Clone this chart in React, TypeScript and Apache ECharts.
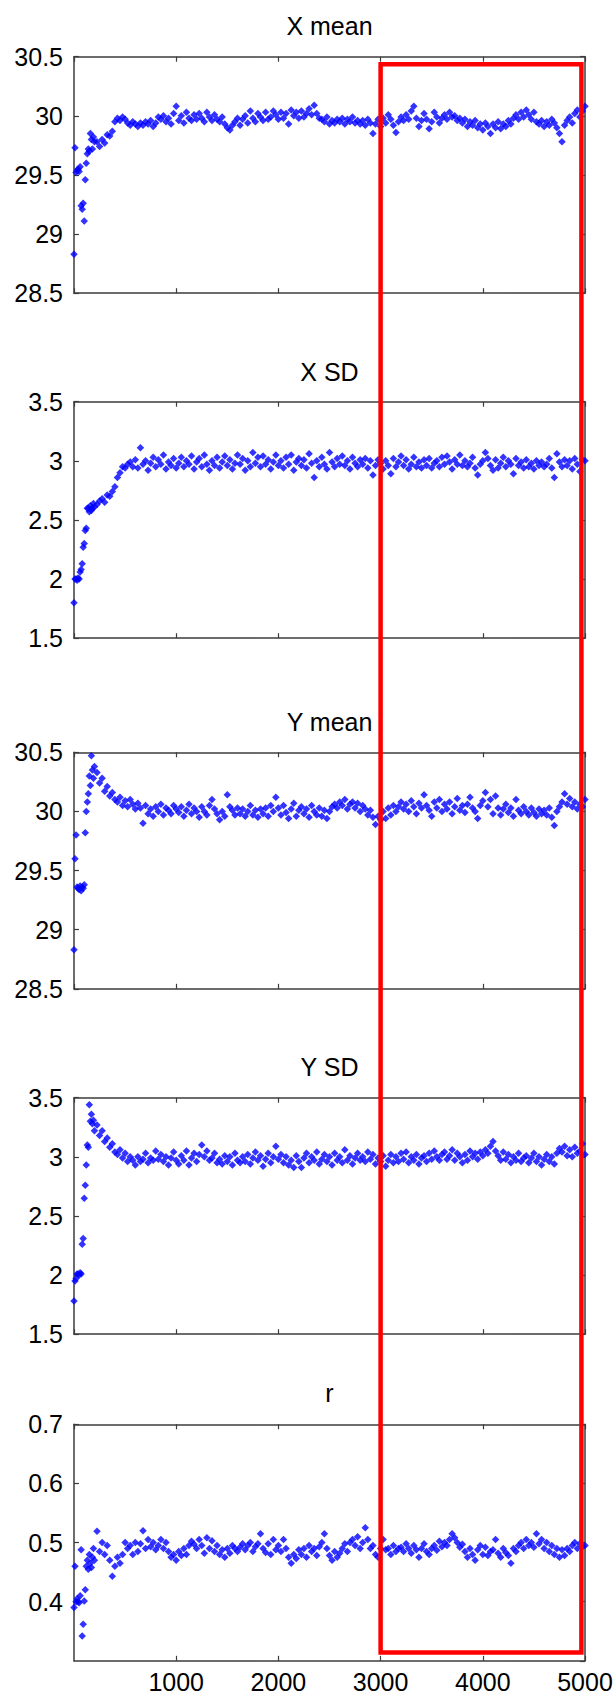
import React, { useEffect, useRef } from "react";
import * as echarts from "echarts";

// iteration numbers (x values)
const iterations = [
  0, 10, 20, 30, 40, 50, 60, 70, 80, 90, 100, 110, 120, 130, 140, 150, 160, 170, 180, 190, 200,
  225, 250, 275, 300, 325, 350, 375, 400,
  425, 450, 475, 500, 525, 550, 575, 600,
  625, 650, 675, 700, 725, 750, 775, 800,
  825, 850, 875, 900, 925, 950, 975, 1000,
  1025, 1050, 1075, 1100, 1125, 1150, 1175, 1200,
  1225, 1250, 1275, 1300, 1325, 1350, 1375, 1400,
  1425, 1450, 1475, 1500, 1525, 1550, 1575, 1600,
  1625, 1650, 1675, 1700, 1725, 1750, 1775, 1800,
  1825, 1850, 1875, 1900, 1925, 1950, 1975, 2000,
  2025, 2050, 2075, 2100, 2125, 2150, 2175, 2200,
  2225, 2250, 2275, 2300, 2325, 2350, 2375, 2400,
  2425, 2450, 2475, 2500, 2525, 2550, 2575, 2600,
  2625, 2650, 2675, 2700, 2725, 2750, 2775, 2800,
  2825, 2850, 2875, 2900, 2925, 2950, 2975, 3000,
  3025, 3050, 3075, 3100, 3125, 3150, 3175, 3200,
  3225, 3250, 3275, 3300, 3325, 3350, 3375, 3400,
  3425, 3450, 3475, 3500, 3525, 3550, 3575, 3600,
  3625, 3650, 3675, 3700, 3725, 3750, 3775, 3800,
  3825, 3850, 3875, 3900, 3925, 3950, 3975, 4000,
  4025, 4050, 4075, 4100, 4125, 4150, 4175, 4200,
  4225, 4250, 4275, 4300, 4325, 4350, 4375, 4400,
  4425, 4450, 4475, 4500, 4525, 4550, 4575, 4600,
  4625, 4650, 4675, 4700, 4725, 4750, 4775, 4800,
  4825, 4850, 4875, 4900, 4925, 4950, 4975, 5000,
];

const xMean = [
  28.83, 29.73, 29.52, 29.54, 29.55, 29.53, 29.57, 29.24, 29.21, 29.26, 29.11, 29.46, 29.6, 29.68, 29.72, 29.7, 29.85, 29.8, 29.72, 29.82, 29.78,
  29.78, 29.74, 29.8, 29.77, 29.84, 29.83, 29.87, 29.95,
  29.98, 29.96, 29.99, 29.97, 29.94, 29.92, 29.95, 29.93,
  29.91, 29.94, 29.92, 29.95, 29.93, 29.96, 29.91, 29.94,
  29.99, 29.97, 30.0, 29.95, 29.98, 29.93, 30.02, 30.08,
  29.96, 30.0, 29.94, 30.03, 29.98, 29.96, 30.01, 29.97,
  30.02, 29.98, 29.95, 30.03, 29.99, 29.96, 30.01, 29.97,
  29.95, 29.99, 29.93, 29.9, 29.88, 29.92, 29.95, 29.98,
  29.92, 29.97, 30.0, 29.94, 30.04, 29.98, 29.95, 30.02,
  29.99, 29.96, 30.03, 29.97, 29.99, 30.04, 30.01, 29.97,
  30.03, 29.98, 30.02, 29.93, 30.05, 30.0, 30.03, 29.98,
  30.04, 29.99, 30.02, 30.06, 30.01, 30.09, 30.02, 29.98,
  29.97, 29.95, 29.99, 29.93, 29.96, 29.94, 29.97, 29.95,
  29.98, 29.93, 29.97, 29.95, 29.99, 29.94, 29.96, 29.93,
  29.96, 29.92, 29.97, 29.94, 29.85, 29.93, 29.97, 29.91,
  29.98, 29.94, 30.01, 29.97, 29.92, 29.86, 29.95, 29.99,
  29.96, 30.01, 29.97, 30.04, 30.08, 29.98, 29.91, 29.96,
  30.02, 29.97, 29.89, 29.95, 30.03, 29.99, 29.94, 29.98,
  30.01, 29.97, 30.03, 29.99, 30.0, 29.96, 29.98, 29.94,
  29.97, 29.91, 29.95, 29.92, 29.96, 29.9, 29.93, 29.88,
  29.94, 29.91, 29.85, 29.93, 29.9, 29.95, 29.89, 29.93,
  29.91, 29.96, 29.93, 29.98, 30.01, 29.97, 30.03, 29.99,
  30.05, 30.01, 29.97, 30.03, 29.95, 29.93, 29.96, 29.91,
  29.95, 29.92, 29.97, 29.94, 29.9, 29.85, 29.78, 29.92,
  29.96, 29.99, 29.94, 30.02, 30.05, 29.99, 30.04, 30.08,
];

const xSD = [
  1.8, 2.0, 2.0, 1.99, 2.01, 2.0, 2.06, 2.08, 2.13, 2.27, 2.3, 2.41, 2.43, 2.6, 2.6, 2.57, 2.62, 2.58, 2.6, 2.64, 2.61,
  2.63, 2.66, 2.68, 2.65, 2.71, 2.7, 2.74, 2.78,
  2.86, 2.9, 2.95, 2.94, 2.97, 2.99, 2.95, 3.01,
  2.94, 3.11, 2.97, 3.0, 2.92, 2.98, 3.03, 2.95,
  3.01, 2.97, 3.05, 2.93, 2.99, 2.96, 3.02, 2.94,
  2.98, 3.03, 2.95, 3.0, 2.97, 3.04, 2.93, 2.99,
  3.02, 2.95, 3.05, 2.97, 2.92, 3.0, 2.96, 3.03,
  2.94, 2.99, 3.04, 2.96, 3.01, 2.93, 2.98, 3.05,
  2.97, 3.02, 2.92, 3.0, 2.95, 3.07, 2.98, 3.03,
  2.95, 3.04, 2.97, 3.01, 2.93, 2.99, 3.05, 2.96,
  3.0, 2.94, 3.03, 2.97, 3.05, 2.92, 2.99, 3.02,
  2.96, 3.01, 2.94, 3.06, 2.98, 2.86, 3.0, 2.95,
  3.03, 2.97, 2.93, 3.07, 2.99, 2.95, 3.02, 2.97,
  3.04, 2.96, 3.0, 2.93, 3.03, 2.98, 2.95, 3.01,
  2.97, 3.02, 2.94, 3.0, 2.88, 2.96, 3.01, 2.98,
  2.93, 3.0, 2.96, 2.89, 3.02, 2.95, 2.99, 3.04,
  2.96, 3.01, 2.93, 2.97, 3.03, 2.95, 2.99, 2.94,
  3.01, 2.96, 3.02, 2.94, 2.98, 3.0, 2.95, 3.03,
  2.97, 3.04, 2.99, 2.93, 3.01, 2.97, 3.05, 2.96,
  3.0, 2.95, 2.98, 3.03, 2.94, 2.88, 2.97, 3.0,
  3.07, 3.02, 2.96, 2.92, 3.01, 2.94, 2.98, 3.03,
  2.95, 3.0, 2.97, 2.89, 3.02, 2.96, 2.99, 2.94,
  3.01, 2.95, 2.98, 2.93, 3.0, 2.96, 2.99, 2.95,
  2.97, 3.02, 2.94, 2.86, 3.06, 2.99, 2.95, 3.01,
  2.96, 3.0, 2.93, 3.02, 2.97, 2.91, 3.01, 3.0,
];

const yMean = [
  28.83, 29.6, 29.8, 29.36, 29.35, 29.34, 29.37, 29.33, 29.36, 29.35, 29.38, 29.82, 30.0, 30.08, 30.15, 30.3, 30.22, 30.47, 30.35, 30.28, 30.38,
  30.33, 30.24, 30.28, 30.17, 30.21, 30.13, 30.16, 30.1,
  30.08, 30.12, 30.05, 30.09, 30.04, 30.1, 30.06, 30.02,
  30.07, 30.03, 29.9, 30.05, 29.98, 30.02, 29.96, 30.04,
  30.0, 30.06, 29.97, 30.03, 30.01, 29.98, 30.05, 30.02,
  29.99, 30.04, 29.96, 30.01, 30.06, 29.98, 30.03, 30.0,
  29.95, 30.04, 30.0, 29.97, 30.05, 30.1, 30.02, 29.98,
  29.93, 30.0, 29.96, 30.14, 30.04, 30.01, 29.97, 30.03,
  29.98, 30.02, 29.96, 30.0, 30.05, 29.97, 30.01, 29.95,
  30.02, 29.98, 30.03, 29.96, 30.05, 30.0, 30.12, 30.03,
  29.97, 30.05, 29.99, 29.94, 30.02, 30.07, 29.96, 30.01,
  30.04, 29.98, 30.02, 29.95, 30.05, 30.0, 29.97, 30.03,
  29.96, 30.01, 29.94, 30.0, 30.04, 30.06, 30.03, 30.08,
  30.05, 30.1, 30.02, 30.06, 30.08, 30.03, 30.07, 30.0,
  30.05, 30.02, 29.97, 30.01, 29.95, 29.89, 29.96, 29.93,
  30.0, 29.94, 30.03, 29.97, 30.05, 30.0, 30.04, 30.08,
  30.02, 30.06, 30.0, 30.09, 30.04, 29.98, 30.07, 30.03,
  30.14, 30.05, 30.01, 29.96, 30.08, 30.03, 30.1, 30.0,
  30.06, 30.02, 30.08, 29.98, 30.04, 30.11, 30.01, 30.05,
  29.99, 30.06, 30.12, 30.03, 30.0, 29.94, 30.05, 30.09,
  30.16, 30.04, 30.1, 29.98, 30.13, 30.03, 29.97, 30.02,
  30.06, 29.99, 30.03, 29.96, 30.1, 30.01, 29.98, 30.04,
  30.0, 29.97, 30.03, 29.99, 29.96, 30.02, 29.98, 30.01,
  29.97, 30.03, 29.95, 29.88, 30.0, 30.04, 30.08, 30.15,
  30.06, 30.11, 30.04, 30.08, 30.02, 30.06, 30.04, 30.1,
];

const ySD = [
  1.78, 1.95, 1.97, 2.01, 2.01, 2.0, 2.02, 2.01, 2.26, 2.31, 2.65, 2.76, 2.93, 3.1, 3.08, 3.44, 3.3, 3.36, 3.28, 3.31, 3.22,
  3.27, 3.18, 3.22, 3.13, 3.16, 3.08, 3.11, 3.04,
  3.02, 3.06, 2.99, 3.03, 2.96, 3.0, 2.97, 2.93,
  3.0, 2.96, 2.98, 3.03, 2.95, 2.99, 2.97, 3.05,
  2.98, 3.02, 2.96, 3.0, 2.93, 2.99, 3.04, 2.97,
  2.94, 3.01, 2.97, 3.05, 2.93, 2.99, 3.03, 2.96,
  3.02, 3.1, 3.0, 3.05, 2.97, 2.99, 3.03, 2.95,
  2.98, 2.94, 3.01, 2.96, 3.0, 2.93, 3.03, 2.97,
  2.95, 3.0, 2.96, 3.02, 2.94, 2.99, 3.04, 2.97,
  3.01, 2.92, 2.98, 3.03, 2.95, 3.0, 3.09, 2.98,
  3.02, 2.95, 3.0, 2.93, 2.97, 2.91, 3.01, 2.96,
  2.91, 2.99, 3.03, 2.95, 3.0, 2.97, 3.04, 2.94,
  2.98, 3.02, 2.96, 3.0, 2.93, 3.03, 2.97, 3.0,
  2.95, 3.06, 2.97, 3.01, 2.94, 2.99, 3.03, 2.97,
  3.0, 2.96, 3.04, 2.98, 3.02, 2.94, 2.99, 2.96,
  3.01, 2.92, 2.97, 3.02, 2.95, 3.0, 2.96, 3.03,
  2.98, 3.04, 2.95, 3.0, 2.97, 3.02, 2.94, 2.99,
  3.01, 2.96, 3.03, 2.98, 3.05, 3.0, 2.97, 3.02,
  3.04, 2.98, 3.01, 3.06, 2.97, 3.03, 3.0, 2.95,
  3.02, 2.97, 3.05, 3.0, 3.03, 2.98, 3.04, 3.01,
  3.06, 3.03, 3.09, 3.13, 3.05, 3.01, 2.97, 3.04,
  2.98, 3.02, 2.95, 3.0, 2.97, 3.03, 2.96, 2.99,
  3.01, 2.95, 2.99, 3.03, 2.96, 3.0, 2.93, 2.98,
  3.02, 2.96, 3.0, 2.94, 3.03, 3.07, 3.04, 3.09,
  3.01, 3.06, 3.0, 3.08, 3.03, 3.05, 3.11, 3.02,
];

const rValues = [
  0.39, 0.46, 0.4, 0.405, 0.4, 0.398, 0.41, 0.488, 0.342, 0.362, 0.401, 0.42, 0.46, 0.47, 0.455, 0.48, 0.465, 0.458, 0.475, 0.49, 0.47,
  0.519, 0.485, 0.5, 0.48, 0.495, 0.47, 0.443, 0.46,
  0.475, 0.465, 0.48, 0.5, 0.49, 0.495, 0.48, 0.5,
  0.485, 0.498, 0.52, 0.49, 0.505, 0.493, 0.5, 0.488,
  0.495, 0.505, 0.49, 0.5, 0.485, 0.475, 0.48, 0.47,
  0.485, 0.478, 0.49, 0.48, 0.495, 0.502, 0.497, 0.49,
  0.505, 0.495, 0.482, 0.508, 0.49, 0.503, 0.485, 0.495,
  0.48, 0.488, 0.475, 0.49, 0.482, 0.495, 0.49, 0.485,
  0.492, 0.498, 0.488, 0.495, 0.5, 0.485, 0.493, 0.498,
  0.515, 0.49, 0.483, 0.498, 0.48, 0.505, 0.488, 0.495,
  0.485, 0.505, 0.49, 0.475, 0.465, 0.48, 0.473, 0.488,
  0.48, 0.49, 0.475, 0.495, 0.485, 0.49, 0.478, 0.493,
  0.5, 0.515, 0.49, 0.478, 0.47, 0.485, 0.475, 0.482,
  0.49, 0.498, 0.485, 0.5, 0.505, 0.495, 0.51, 0.49,
  0.5, 0.525, 0.505, 0.49, 0.495, 0.48, 0.475, 0.49,
  0.505, 0.488, 0.49, 0.48, 0.495, 0.485, 0.49, 0.492,
  0.485, 0.498, 0.49, 0.482, 0.495, 0.488, 0.475, 0.49,
  0.498, 0.485, 0.48, 0.49, 0.495, 0.487, 0.502, 0.493,
  0.5, 0.495, 0.505, 0.515, 0.508, 0.5, 0.492, 0.497,
  0.485, 0.475, 0.49, 0.48, 0.47, 0.488, 0.495, 0.48,
  0.492, 0.478, 0.485, 0.488, 0.505, 0.482, 0.475, 0.49,
  0.483, 0.478, 0.465, 0.49, 0.485, 0.495, 0.5, 0.49,
  0.505, 0.495, 0.5, 0.492, 0.515, 0.498, 0.505, 0.49,
  0.5, 0.485, 0.495, 0.48, 0.49, 0.475, 0.488, 0.478,
  0.49, 0.485, 0.495, 0.5, 0.49, 0.498, 0.493, 0.495,
];

const panelTitles = ["X mean", "X SD", "Y mean", "Y SD", "r"];
const panelSeries = [xMean, xSD, yMean, ySD, rValues];
const yMins = [28.5, 1.5, 28.5, 1.5, 0.3];
const yMaxs = [30.5, 3.5, 30.5, 3.5, 0.7];
const yIntervals = [0.5, 0.5, 0.5, 0.5, 0.1];
const xTickLabels = ["1000", "2000", "3000", "4000", "5000"];
const highlightRange = [3000, 4965];

// layout (pixels)
const W = 616;
const H = 1699;
const GRID_LEFT = 74;
const GRID_RIGHT = 31;
const GRID_TOPS = [56.7, 401.7, 752.3, 1097.7, 1424.3];
const GRID_H = 236.5;
const TITLE_Y = [26, 371.7, 721.7, 1066.7, 1393];
const FONT = "Liberation Sans, Arial, Helvetica, sans-serif";
const AXIS_COLOR = "#3c3c3c";

export default function App() {
  const ref = useRef<HTMLDivElement>(null);

  useEffect(() => {
    if (!ref.current) return;
    const chart = echarts.init(ref.current, undefined, { renderer: "svg" });

    const grids: any[] = [];
    const xAxes: any[] = [];
    const yAxes: any[] = [];
    const series: any[] = [];

    for (let i = 0; i < 5; i++) {
      grids.push({ left: GRID_LEFT, right: GRID_RIGHT, top: GRID_TOPS[i], height: GRID_H, containLabel: false });
      const lineStyle = { color: AXIS_COLOR, width: 1.5 };
      const tick = { show: true, inside: true, length: 5, lineStyle: { color: AXIS_COLOR, width: 1.2 } };
      const isLast = i === 4;
      xAxes.push({
        type: "value", gridIndex: i, position: "bottom", min: 0, max: 5000, interval: 1000,
        axisLine: { show: true, onZero: false, lineStyle },
        axisTick: tick,
        splitLine: { show: false },
        axisLabel: {
          show: isLast, showMinLabel: false, margin: 9, fontSize: 25, color: "#000", fontFamily: FONT,
          formatter: (v: number) => {
            const idx = Math.round(v / 1000) - 1;
            return idx >= 0 && idx < xTickLabels.length ? xTickLabels[idx] : "";
          },
        },
      });
      xAxes.push({
        type: "value", gridIndex: i, position: "top", min: 0, max: 5000, interval: 1000,
        axisLine: { show: true, onZero: false, lineStyle },
        axisTick: tick, splitLine: { show: false }, axisLabel: { show: false },
      });
      yAxes.push({
        type: "value", gridIndex: i, position: "left", min: yMins[i], max: yMaxs[i], interval: yIntervals[i],
        axisLine: { show: true, onZero: false, lineStyle },
        axisTick: tick, splitLine: { show: false },
        axisLabel: {
          show: true, showMinLabel: !isLast, margin: 11, fontSize: 25, color: "#000", fontFamily: FONT,
          formatter: (v: number) => String(Math.round(v * 10) / 10),
        },
      });
      yAxes.push({
        type: "value", gridIndex: i, position: "right", min: yMins[i], max: yMaxs[i], interval: yIntervals[i],
        axisLine: { show: true, onZero: false, lineStyle },
        axisTick: tick, splitLine: { show: false }, axisLabel: { show: false },
      });
      const vals = panelSeries[i];
      series.push({
        type: "scatter", name: panelTitles[i], xAxisIndex: 2 * i, yAxisIndex: 2 * i,
        symbol: "diamond", symbolSize: 7.5,
        itemStyle: { color: "#0000ff" },
        data: iterations.map((x, j) => [x, vals[j]]),
        silent: true,
      });
    }

    const titleTexts = panelTitles.map((t, i) => ({
      type: "text",
      x: GRID_LEFT + (W - GRID_LEFT - GRID_RIGHT) / 2,
      y: TITLE_Y[i],
      style: { text: t, fontSize: 25, fontFamily: FONT, fill: "#000", align: "center", verticalAlign: "middle" },
    }));

    chart.setOption({
      animation: false,
      backgroundColor: "#ffffff",
      grid: grids,
      xAxis: xAxes,
      yAxis: yAxes,
      series,
      graphic: titleTexts,
    });

    const x1 = chart.convertToPixel({ xAxisIndex: 0 }, highlightRange[0]) as number;
    const x2 = chart.convertToPixel({ xAxisIndex: 0 }, highlightRange[1]) as number;
    const yTop = 64.3;
    const yBottom = 1652.5;
    chart.setOption({
      graphic: [
        ...titleTexts,
        {
          type: "rect", z: 100,
          shape: { x: x1, y: yTop, width: x2 - x1, height: yBottom - yTop },
          style: { fill: "none", stroke: "#ff0000", lineWidth: 4.5 },
        },
      ],
    });

    return () => chart.dispose();
  }, []);

  return (
    <div
      ref={ref}
      style={{ position: "absolute", left: 0, top: 0, width: W, height: H, background: "#fff" }}
    />
  );
}
